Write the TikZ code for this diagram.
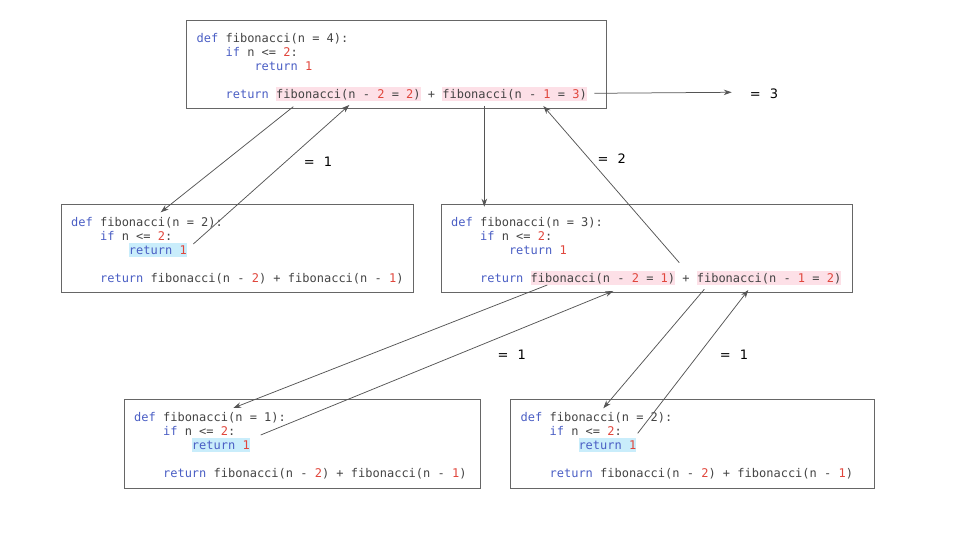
\documentclass[tikz,border=0pt]{standalone}
\usepackage{fontspec}
\usepackage{xcolor}
\usepackage{tikz}
\usetikzlibrary{arrows.meta}
\usetikzlibrary{positioning}

\setmonofont{DejaVu Sans Mono}
\newfontfamily\resultfont{DejaVu Sans}

\definecolor{kwblue}{HTML}{4A5EC4}
\definecolor{numred}{HTML}{E0463C}
\definecolor{codegray}{HTML}{444444}
\definecolor{hlpink}{HTML}{FDE0E7}
\definecolor{hlblue}{HTML}{C9EDFB}
\definecolor{boxgray}{HTML}{666666}
\definecolor{arrowgray}{HTML}{555555}

\newcommand\codefont{\fontsize{12}{14}\selectfont\ttfamily}
\newcommand\kw[1]{\textcolor{kwblue}{#1}}
\newcommand\nm[1]{\textcolor{numred}{#1}}
\newcommand\ind{\phantom{xxxx}}
\newcommand\hl[2]{\smash{\setlength{\fboxsep}{0pt}\colorbox{#1}{\rule[-3pt]{0pt}{14pt}#2}}}
\newcommand\result[1]{=\hspace{9pt}#1}

% a call that recurses: n, then the two arguments
\newcommand\callcode[3]{\begin{tabular}{@{}l@{}}
\kw{def} fibonacci(n = #1):\\
\ind\kw{if} n <= \nm{2}:\\
\ind\ind\kw{return} \nm{1}\\
\\
\ind\kw{return} \hl{hlpink}{fibonacci(n - \nm{2} = \nm{#2})} + \hl{hlpink}{fibonacci(n - \nm{1} = \nm{#3})}
\end{tabular}}

% a call that stops at the base case
\newcommand\leafcode[1]{\begin{tabular}{@{}l@{}}
\kw{def} fibonacci(n = #1):\\
\ind\kw{if} n <= \nm{2}:\\
\ind\ind\hl{hlblue}{\kw{return} \nm{1}}\\
\\
\ind\kw{return} fibonacci(n - \nm{2}) + fibonacci(n - \nm{1})
\end{tabular}}

\begin{document}
\begin{tikzpicture}[x=1pt,y=1pt,
    codebox/.style={draw=boxgray, line width=0.9pt, anchor=north west, inner sep=0pt, outer sep=0pt},
    code/.style={inner sep=0pt, font=\codefont, text=codegray},
    call/.style={draw=arrowgray, line width=0.75pt, -{Stealth[length=8pt,width=5.5pt]}},
    result/.style={font=\resultfont\fontsize{13}{15}\selectfont, inner sep=0pt}]

\useasboundingbox (0,0) rectangle (960,540);

% boxes
\node[codebox, minimum width=420pt, minimum height=88pt] (fourbox) at (186,520) {};
\node[code, below right=12.5pt and 10.5pt of fourbox.north west] (fourcode) {\callcode{4}{2}{3}};

\node[codebox, minimum width=352.5pt, minimum height=88pt] (twobox) at (61,336) {};
\node[code, below right=12.5pt and 10pt of twobox.north west] (twocode) {\leafcode{2}};

\node[codebox, minimum width=410.5pt, minimum height=88pt] (threebox) at (441.5,336) {};
\node[code, below right=12.5pt and 9.5pt of threebox.north west] (threecode) {\callcode{3}{1}{2}};

\node[codebox, minimum width=356pt, minimum height=89pt] (onebox) at (124,141) {};
\node[code, below right=12.5pt and 10pt of onebox.north west] (onecode) {\leafcode{1}};

\node[codebox, minimum width=363.5pt, minimum height=89pt] (twobbox) at (510.5,141) {};
\node[code, below right=12.5pt and 10pt of twobbox.north west] (twobcode) {\leafcode{2}};

% results
\node[result] (restwo) at (318,378.3) {\result{1}};
\node[result] (resthree) at (611.7,381.7) {\result{2}};
\node[result] (resfour) at (764,446) {\result{3}};
\node[result] (resone) at (511.7,185) {\result{1}};
\node[result] (restwob) at (734,185) {\result{1}};

% calls and returns
\draw[call] ([xshift=107.3pt,yshift=1.3pt]fourbox.south west) -- ([xshift=99.7pt,yshift=-8.3pt]twobox.north west);
\draw[call] ([xshift=132.3pt,yshift=-40pt]twobox.north west) -- ([xshift=163.3pt,yshift=3pt]fourbox.south west);
\draw[call] ([xshift=-11.7pt,yshift=14.7pt]fourbox.south east) -- ([xshift=-18pt,yshift=1.7pt]resfour.west);
\draw[call] ([xshift=298.3pt,yshift=2pt]fourbox.south west) -- ([xshift=42.8pt,yshift=-2.7pt]threebox.north west);
\draw[call] ([xshift=237.8pt,yshift=-58.7pt]threebox.north west) -- ([xshift=357.3pt,yshift=2pt]fourbox.south west);
\draw[call] ([xshift=105.8pt,yshift=7pt]threebox.south west) -- ([xshift=109.3pt,yshift=-9pt]onebox.north west);
\draw[call] ([xshift=136.7pt,yshift=-36pt]onebox.north west) -- ([xshift=171.8pt,yshift=1pt]threebox.south west);
\draw[call] ([xshift=262.8pt,yshift=2.7pt]threebox.south west) -- ([xshift=92.8pt,yshift=-9.3pt]twobbox.north west);
\draw[call] ([xshift=127.2pt,yshift=-34.3pt]twobbox.north west) -- ([xshift=306.8pt,yshift=2pt]threebox.south west);

\end{tikzpicture}
\end{document}
